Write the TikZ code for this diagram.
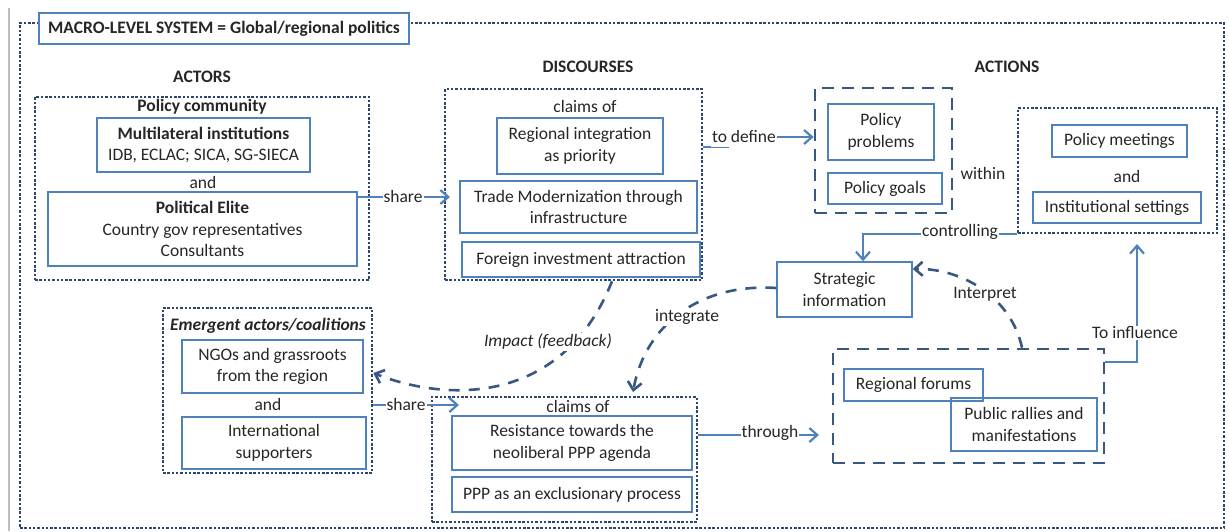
\documentclass[tikz,border=0pt]{standalone}
\usepackage{fontspec}
\setmainfont{Carlito}
\usetikzlibrary{arrows.meta}
\definecolor{boxc}{RGB}{79,129,189}
\definecolor{arrc}{RGB}{79,129,189}
\definecolor{dotc}{RGB}{44,70,110}
\definecolor{dashc}{RGB}{56,88,130}
\definecolor{txtc}{RGB}{38,38,38}
\definecolor{greyl}{RGB}{190,190,190}
\newcommand\dtxt{\fontsize{17.5}{21.5}\selectfont}
\tikzset{
  span/.style n args={4}{minimum width={#3-#1}, minimum height={#4-#2}, at={({(#1+#3)/2},{(#2+#4)/2})}, anchor=center},
  bx/.style={draw=boxc, line width=1.4pt, inner sep=0pt, align=center, font=\dtxt, text=txtc},
  dotbox/.style={draw=dotc, line width=2.5pt, dash pattern=on 2.5pt off 1.8pt, inner sep=0pt},
  dashbox/.style={draw=dashc, line width=2.6pt, dash pattern=on 12pt off 8pt, inner sep=0pt},
  arr/.style={draw=arrc, line width=2.2pt, -{Straight Barb[length=8pt,width=14pt]}},
  darr/.style={draw=dashc, line width=2.6pt, dash pattern=on 11pt off 9pt, -{Straight Barb[length=8pt,width=14pt]}},
  lbl/.style={fill=white, inner sep=1pt, font=\dtxt, text=txtc},
  plain/.style={inner sep=1pt, font=\dtxt, text=txtc},
  hd/.style={inner sep=1pt, font=\dtxt\bfseries, text=txtc},
}
\begin{document}
\begin{tikzpicture}[x=1pt,y=-1pt]
\useasboundingbox (0,0) rectangle (1229,531);
\draw[greyl, line width=1.5pt] (9,8) -- (9,531);
% outer frame and title
\node[dotbox, span={20}{23}{1224}{528}] (frame) {};
\node[bx, fill=white, font=\dtxt\bfseries, span={39}{13}{409}{44}] (title) {MACRO-LEVEL SYSTEM = Global/regional politics};
% headings
\node[hd] (hact) at (202,77) {ACTORS};
\node[hd] (hdis) at (588,67) {DISCOURSES};
\node[hd] (hacn) at (1007,67) {ACTIONS};
% policy community
\node[dotbox, span={35}{97}{369}{280}] (pc) {};
\node[hd] (pcl) at (202,107) {Policy community};
\node[bx, span={97}{118}{310}{172}] (mi) {\textbf{Multilateral institutions}\\IDB, ECLAC; SICA, SG-SIECA};
\node[plain] (and1) at (203,182) {and};
\node[bx, span={48}{192}{357}{266}] (pe) {\textbf{Political Elite}\\Country gov representatives\\Consultants};
% discourses (top)
\node[dotbox, span={445}{89}{702}{280}] (disc) {};
\node[plain] (cl1) at (585,106) {claims of};
\node[bx, span={497}{118}{663}{174}] (ri) {Regional integration\\as priority};
\node[bx, span={460}{181}{697}{233}] (tm) {Trade Modernization through\\infrastructure};
\node[bx, span={462}{242}{700}{277}] (fia) {Foreign investment attraction};
% policy problems
\node[dashbox, span={815}{88}{952}{213}] (pp) {};
\node[bx, span={828}{104}{934}{160}] (ppr) {Policy\\problems};
\node[bx, span={828}{173}{942}{204}] (pg) {Policy goals};
\node[plain] (within) at (983,173) {within};
% meetings
\node[dotbox, span={1018}{108}{1217}{233}] (meet) {};
\node[bx, span={1052}{125}{1187}{157}] (pm) {Policy meetings};
\node[plain] (and3) at (1127,176) {and};
\node[bx, span={1033}{192}{1201}{223}] (is) {Institutional settings};
% strategic information
\node[bx, span={777}{262}{912}{317}] (si) {Strategic\\information};
% emergent actors
\node[dotbox, span={163}{308}{372}{473}] (em) {};
\node[inner sep=1pt, font=\dtxt\bfseries\itshape, text=txtc] (eml) at (268,326) {Emergent actors/coalitions};
\node[bx, span={182}{340}{363}{393}] (ngo) {NGOs and grassroots\\from the region};
\node[plain] (and2) at (268,404) {and};
\node[bx, span={182}{417}{366}{469}] (intl) {International\\supporters};
% discourses (bottom)
\node[dotbox, span={432}{397}{697}{522}] (ld) {};
\node[plain] (cl2) at (578,406) {claims of};
\node[bx, span={452}{416}{692}{470}] (res) {Resistance towards the\\neoliberal PPP agenda};
\node[bx, span={452}{477}{692}{512}] (ppp) {PPP as an exclusionary process};
% regional forums
\node[dashbox, span={833}{349}{1104}{463}] (rf) {};
\node[bx, span={844}{369}{983}{401}] (rfo) {Regional forums};
\node[bx, span={951}{398}{1097}{451}] (pr) {Public rallies and\\manifestations};
% free ends
\coordinate (s1e) at (450,197);
\coordinate (s2e) at (459,405);
\coordinate (thr) at (819,435);
\coordinate (infl) at (1137,244);
\coordinate (intg) at (633,392);
% connectors
\draw[arr] (pe.east |- 0,197) -- (s1e);
\node[lbl] (ls1) at (403,196) {share};
\draw[arr] (disc.east |- 0,147) -- (728,147) -- (728,137) -- (pp.west |- 0,137);
\node[lbl, minimum height=22pt] (ldef) at (744,136) {to define};
\draw[arr] (meet.south west) -| (863,0 |- si.north);
\node[lbl] (lctl) at (960,232) {controlling};
\draw[arr] (em.east |- 0,405) -- (s2e);
\node[lbl] (ls2) at (406,404) {share};
\draw[arr] (ld.east |- 0,435) -- (thr);
\node[lbl] (lthr) at (770,433) {through};
\draw[arr] (rf.east |- 0,362) -| (infl);
\node[lbl] (linf) at (1135,333) {To influence};
\draw[darr] (612,0 |- disc.south) .. controls (565,400) and (455,405) .. (em.east |- 0,373);
\node[lbl, font=\dtxt\itshape] (limp) at (548,342) {Impact (feedback)};
\draw[darr] (si.west |- 0,288) .. controls (700,283) and (645,325) .. (intg);
\node[lbl] (lint) at (687,317) {integrate};
\draw[darr] (1022,0 |- rf.north) .. controls (1012,300) and (965,268) .. (si.east |- 0,269);
\node[lbl] (lipr) at (985,294) {Interpret};
\end{tikzpicture}
\end{document}
